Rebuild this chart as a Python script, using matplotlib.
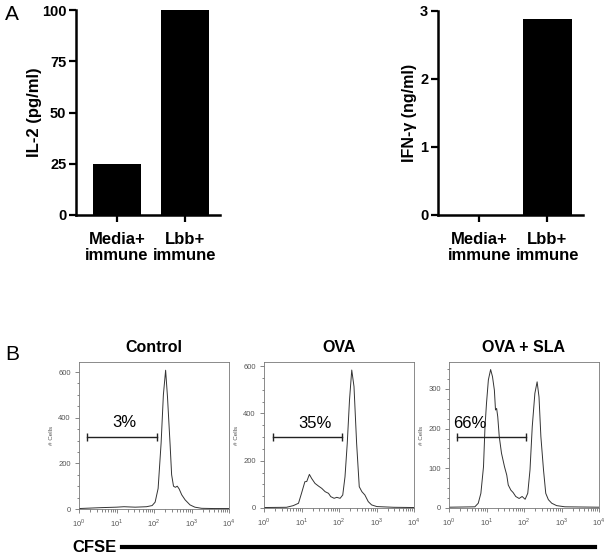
import numpy as np
import matplotlib
matplotlib.use("Agg")
from matplotlib import pyplot as plt
from matplotlib.lines import Line2D
from matplotlib.ticker import MultipleLocator, LogLocator, NullFormatter, FixedLocator

plt.rcParams['font.family'] = ['Liberation Sans', 'DejaVu Sans']
plt.rcParams['mathtext.fontset'] = 'custom'
plt.rcParams['mathtext.rm'] = 'Liberation Sans'

# panel A
groups = ["Media+\nimmune", "Lbb+\nimmune"]
il2 = [24.8, 100]
ifng = [0, 2.88]

# panel B, CFSE histograms (log10 intensity, # cells)
control_logx = [0.0, 0.3, 0.6, 1.0, 1.2, 1.5, 1.8, 1.95, 2.03, 2.11, 2.19, 2.25, 2.31,
                2.36, 2.43, 2.47, 2.52, 2.57, 2.62, 2.67, 2.74, 2.83, 2.96, 3.09, 3.27,
                3.6, 4.0]
control_cells = [2, 4, 6, 8, 10, 8, 10, 15, 30, 90, 290, 500, 608,
                 490, 280, 150, 100, 95, 100, 88, 62, 40, 18, 8, 3,
                 2, 2]

ova_logx = [0.0, 0.6, 0.78, 0.92, 1.0, 1.09, 1.14, 1.21, 1.27, 1.36, 1.45, 1.54, 1.63,
            1.72, 1.78, 1.87, 1.94, 2.03, 2.10, 2.16, 2.22, 2.28, 2.34, 2.40, 2.47,
            2.54, 2.61, 2.69, 2.78, 2.87, 3.01, 3.46, 4.0]
ova_cells = [2, 3, 10, 20, 62, 111, 112, 142, 125, 104, 93, 83, 69,
             62, 48, 41, 45, 41, 55, 132, 273, 456, 583, 513, 273,
             90, 69, 55, 27, 13, 6, 3, 2]

sla_logx = [0.0, 0.69, 0.78, 0.85, 0.92, 0.96, 1.00, 1.05, 1.11, 1.16, 1.21, 1.24, 1.27,
            1.30, 1.34, 1.40, 1.48, 1.54, 1.58, 1.65, 1.71, 1.78, 1.87, 1.95, 2.03,
            2.10, 2.16, 2.22, 2.29, 2.35, 2.40, 2.45, 2.52, 2.58, 2.65, 2.74, 2.87,
            3.09, 4.0]
sla_cells = [2, 3, 12, 37, 104, 205, 264, 323, 349, 331, 297, 247, 251,
             230, 180, 138, 104, 83, 58, 45, 39, 29, 24, 29, 22,
             37, 96, 205, 289, 318, 280, 180, 96, 37, 21, 12, 6,
             3, 2]

hist_titles = ["Control", "OVA", "OVA + SLA"]
hist_ymax = [644, 617, 368]
hist_ymajor = [200, 200, 100]
hist_yminor = [50, 50, 25]
gate_logx = [(0.21, 2.08), (0.24, 2.08), (0.21, 2.05)]
gate_cells = [315, 300, 180]
gate_labels = ["3%", "35%", "66%"]

W, H = 607, 555
fig = plt.figure(figsize=(W / 100, H / 100), dpi=100)


def px_axes(x0, y0, x1, y1):
    return fig.add_axes([x0 / W, 1 - y1 / H, (x1 - x0) / W, (y1 - y0) / H])


def bar_panel(ax, values, ymax, step, ylabel, label_x, label_size):
    ax.bar(range(len(values)), values, width=0.706, color="black")
    ax.set_xlim(-0.603, 1.52)
    ax.set_ylim(0, ymax)
    ax.yaxis.set_major_locator(MultipleLocator(step))
    ax.set_xticks(range(len(groups)))
    ax.set_xticklabels(groups, fontsize=12, fontweight="bold", linespacing=1.1)
    for lab in ax.get_yticklabels():
        lab.set_fontweight("bold")
        lab.set_fontsize(10.5)
    ax.tick_params(width=1.6, length=5, pad=2)
    ax.tick_params(axis="x", pad=7)
    for s in ["top", "right"]:
        ax.spines[s].set_visible(False)
    for s in ["left", "bottom"]:
        ax.spines[s].set_linewidth(1.8)
    ax.set_ylabel(ylabel, fontsize=label_size, fontweight="bold")
    ax.yaxis.set_label_coords(label_x, 0.5)


ax1 = px_axes(76, 10, 220, 215)
bar_panel(ax1, il2, 100, 25, "IL-2 (pg/ml)", -0.236, 12)
ax2 = px_axes(438, 11, 583, 215)
bar_panel(ax2, ifng, 3, 1, "IFN-γ (ng/ml)", -0.145, 11.5)

fig.text(5 / W, 1 - 15 / H, "A", fontsize=15, va="center", ha="left")
fig.text(5 / W, 1 - 355 / H, "B", fontsize=15, va="center", ha="left")

hist_boxes = [(79, 362, 229, 509), (264, 362, 414, 508), (449, 362, 599, 508)]
hist_data = [(control_logx, control_cells), (ova_logx, ova_cells), (sla_logx, sla_cells)]
label_pos = [(1.2, 377, "center"), (1.36, 355, "center"), (0.12, 214, "left")]

for i, box in enumerate(hist_boxes):
    ax = px_axes(*box)
    lx, cells = hist_data[i]
    ax.plot(10 ** np.array(lx), cells, color="#333333", lw=0.7)
    ax.set_xscale("log")
    ax.set_xlim(1, 1e4)
    ax.set_ylim(0, hist_ymax[i])
    ax.xaxis.set_major_locator(FixedLocator([1, 10, 100, 1000, 10000]))
    ax.set_xticklabels([r"$10^{%d}$" % k for k in range(5)])
    ax.xaxis.set_minor_locator(LogLocator(base=10, subs=np.arange(2, 10)))
    ax.xaxis.set_minor_formatter(NullFormatter())
    ax.yaxis.set_major_locator(MultipleLocator(hist_ymajor[i]))
    ax.yaxis.set_minor_locator(MultipleLocator(hist_yminor[i]))
    ax.tick_params(which="both", labelsize=5.5, colors="#555555", width=0.5, pad=3)
    ax.tick_params(which="major", length=3)
    ax.tick_params(which="minor", length=1.8)
    for s in ax.spines.values():
        s.set_linewidth(0.6)
        s.set_color("#777777")
    ax.set_ylabel("# Cells", fontsize=4.5, color="#555555", labelpad=3)
    ax.set_title(hist_titles[i], fontsize=11.5, fontweight="bold", pad=7)
    g0, g1 = gate_logx[i]
    ax.plot([10 ** g0, 10 ** g1], [gate_cells[i]] * 2, color="#222222", lw=1,
            marker="|", markersize=6, mew=1)
    tx, ty, ha = label_pos[i]
    ax.text(10 ** tx, ty, gate_labels[i], fontsize=12, ha=ha, va="center")

fig.text(72 / W, 1 - 547 / H, "CFSE", fontsize=12, fontweight="bold", va="center", ha="left")
fig.add_artist(Line2D([122 / W, 595 / W], [1 - 547 / H, 1 - 547 / H], color="black", lw=3))

fig.savefig("out.png", dpi=100)
